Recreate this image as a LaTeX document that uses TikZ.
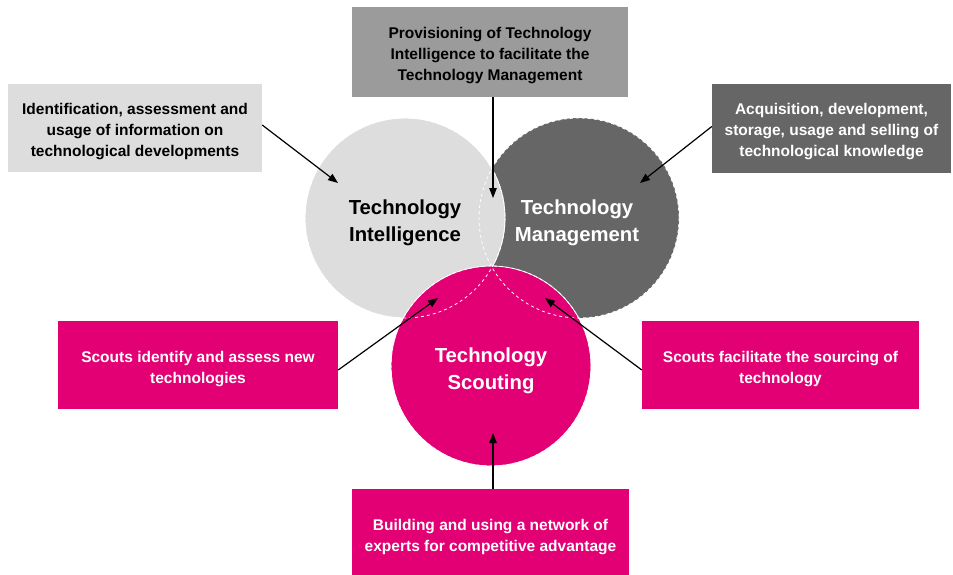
\documentclass[tikz,border=0pt]{standalone}
\usepackage{fontspec}
\setmainfont{Liberation Sans}
\usepackage{xcolor}
\usetikzlibrary{arrows.meta,positioning,calc}

\definecolor{scoutpink}{RGB}{226,0,116}
\definecolor{lightgrey}{RGB}{221,221,221}
\definecolor{midgrey}{RGB}{155,155,155}
\definecolor{darkgrey}{RGB}{102,102,102}

\tikzset{
    infobox/.style={minimum width=277pt, minimum height=88pt, inner sep=0pt},
    boxtext/.style={inner sep=0pt, align=center, font=\fontsize{15.5}{21}\selectfont\bfseries},
    bigcircle/.style={circle, minimum size=200pt, inner sep=0pt},
    circletext/.style={inner sep=0pt, align=center, font=\fontsize{20.3}{27}\selectfont\bfseries},
    pointer/.style={-{Triangle[length=10pt,width=7.5pt]}, line width=1.2pt}
}

\begin{document}
\begin{tikzpicture}[x=1pt,y=-1pt]
    \useasboundingbox (0,0) rectangle (953,575);

    % Circles
    \node[bigcircle, fill=darkgrey] (tm) at (579,218) {};
    \node[bigcircle, fill=lightgrey, draw=white, line width=0.8pt] (ti) at (405,218) {};
    \node[bigcircle, fill=scoutpink, draw=white, line width=0.8pt] (ts) at (491,366) {};

    % Hidden outlines
    \foreach \c in {ti,tm,ts} {
        \draw[white, dashed, line width=0.8pt] (\c.center) circle (100);
    }

    % Circle labels
    \node[circletext, text=white] (tmtext) at ([xshift=-2pt,yshift=-5pt]tm.center) {Technology\\Management};
    \node[circletext] (titext) at ([yshift=-5pt]ti.center) {Technology\\Intelligence};
    \node[circletext, text=white] (tstext) at ([yshift=-5pt]ts.center) {Technology\\Scouting};

    % Boxes
    \node[infobox, fill=lightgrey, minimum width=254pt] (tibox) at (135,128) {};
    \node[infobox, fill=midgrey, minimum width=276pt, minimum height=90pt] (lensbox) at (490,52) {};
    \node[infobox, fill=darkgrey, minimum width=239pt, minimum height=89pt] (tmbox) at (831.5,128.5) {};
    \node[infobox, fill=scoutpink, minimum width=280pt] (slbox) at (198,365) {};
    \node[infobox, fill=scoutpink] (srbox) at (780.5,365) {};
    \node[infobox, fill=scoutpink, minimum height=90pt] (nwbox) at (490.5,534) {};

    % Box texts
    \node[boxtext] (tiboxtext) at ([yshift=-4pt]tibox.center)
        {Identification, assessment and\\usage of information on\\technological developments};
    \node[boxtext] (lensboxtext) at ([yshift=-4pt]lensbox.center)
        {Provisioning of Technology\\Intelligence to facilitate the\\Technology Management};
    \node[boxtext, text=white] (tmboxtext) at ([yshift=-3pt]tmbox.center)
        {Acquisition, development,\\storage, usage and selling of\\technological knowledge};
    \node[boxtext, text=white] (slboxtext) at ([yshift=-4pt]slbox.center)
        {Scouts identify and assess new\\technologies};
    \node[boxtext, text=white] (srboxtext) at ([yshift=-4pt]srbox.center)
        {Scouts facilitate the sourcing of\\technology};
    \node[boxtext, text=white] (nwboxtext) at ([yshift=-3pt]nwbox.center)
        {Building and using a network of\\experts for competitive advantage};

    % Arrow tips
    \coordinate (tiend) at (338,183);
    \coordinate (lensend) at (493,198);
    \coordinate (tmend) at (640,183);
    \coordinate (slend) at (438,298);
    \coordinate (srend) at (545,298);
    \coordinate (nwend) at (493,433);

    % Arrows
    \draw[pointer] ([yshift=3pt]tibox.east) -- (tiend);
    \draw[pointer] (lensbox.south -| lensend) -- (lensend);
    \draw[pointer] ([yshift=2pt]tmbox.west) -- (tmend);
    \draw[pointer] ([yshift=-5pt]slbox.east) -- (slend);
    \draw[pointer] ([yshift=-5pt]srbox.west) -- (srend);
    \draw[pointer] (nwbox.north -| nwend) -- (nwend);
\end{tikzpicture}
\end{document}
